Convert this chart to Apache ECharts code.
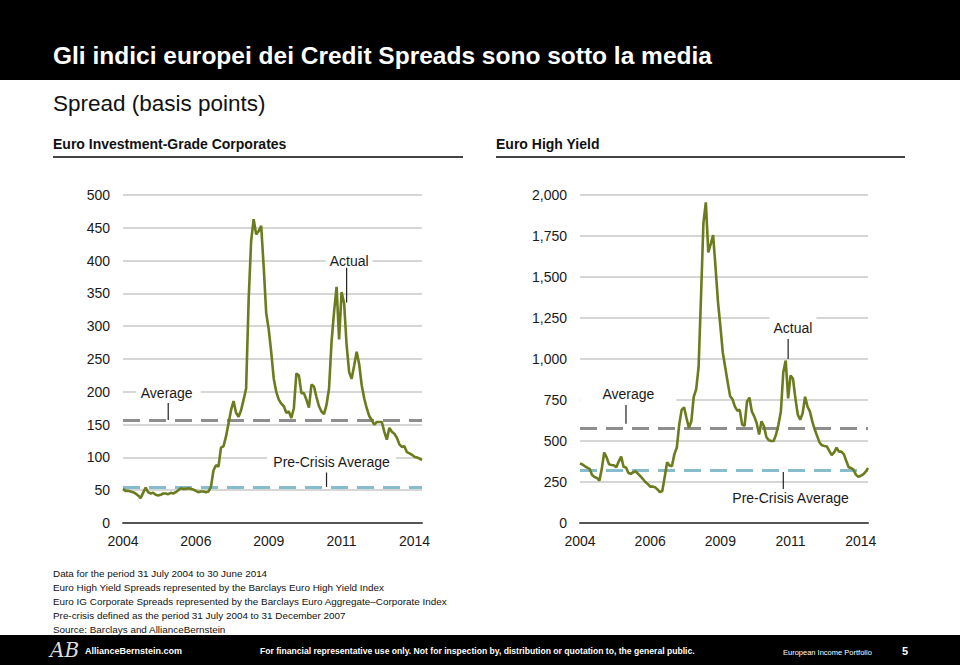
<!DOCTYPE html>
<html><head><meta charset="utf-8">
<script src="https://cdn.jsdelivr.net/npm/echarts@6/dist/echarts.min.js"></script>
<style>html,body{margin:0;padding:0;background:#fff}#c{width:960px;height:665px}</style>
</head><body><div id="c"></div>
<script>
// Monthly categories, 31 July 2004 .. 30 June 2014
const months = [];
for (let y = 2004, m = 7; months.length < 120;) {
  months.push(y + '-' + String(m).padStart(2, '0'));
  m++; if (m > 12) { m = 1; y++; }
}
const tickIndex = [0, 29, 58, 87, 116];
const tickLabels = ['2004', '2006', '2009', '2011', '2014'];

// Euro Investment-Grade Corporates spread (bp)
const igSpread = [
  52,49,49,48,47,45,42,38,46,54,
  47,45,46,43,42,43,45,45,44,46,
  45,47,50,53,52,52,53,52,51,49,
  47,48,48,47,48,55,80,88,86,115,
  117,132,152,172,186,168,162,172,188,205,
  340,430,463,440,445,453,390,320,295,260,
  220,200,188,182,178,168,170,160,175,228,
  225,198,198,188,176,211,208,192,178,170,
  166,180,205,276,322,360,280,352,335,271,
  230,220,240,261,242,210,190,175,163,157,
  150,154,154,154,139,127,145,139,136,130,
  120,116,117,108,106,104,101,100,98,96
];
// Euro High Yield spread (bp)
const hySpread = [
  364,357,347,338,330,292,280,275,258,330,
  430,400,358,354,352,340,375,405,343,338,
  305,300,310,315,300,285,268,250,238,222,
  222,218,205,188,195,280,370,350,348,420,
  460,600,690,705,640,580,620,770,815,950,
  1380,1830,1955,1650,1700,1756,1560,1350,1200,1040,
  950,860,775,755,710,685,690,600,593,740,
  765,680,650,610,540,620,590,525,505,500,
  500,540,600,680,920,990,760,900,880,760,
  660,630,670,770,710,679,618,570,530,490,
  474,470,467,440,414,430,460,435,435,420,
  380,340,335,325,295,282,288,296,312,335
];
const igAverage = 156, igPreCrisisAverage = 54;
const hyAverage = 580, hyPreCrisisAverage = 320;

const FONT = '"Liberation Sans", Arial, Helvetica, sans-serif';
const GREEN = '#6b7b1e', AVG = '#8e8e8e', PRE = '#86bccb';

const chart = echarts.init(document.getElementById('c'), null, {renderer: 'svg'});

function xAxis(gi) {
  return {
    type: 'category', gridIndex: gi, data: months, boundaryGap: false,
    axisLine: {lineStyle: {color: '#555', width: 2}},
    axisTick: {show: false},
    axisLabel: {
      interval: (i) => tickIndex.includes(i),
      formatter: (v, i) => tickLabels[tickIndex.indexOf(i)],
      fontSize: 14, color: '#1a1a1a', margin: 11, fontFamily: FONT
    },
    splitLine: {show: false}
  };
}
function yAxis(gi, max, step, fmt) {
  return {
    type: 'value', gridIndex: gi, min: 0, max: max, interval: step,
    axisLine: {show: false}, axisTick: {show: false},
    axisLabel: {fontSize: 14, color: '#1a1a1a', margin: 13, fontFamily: FONT, formatter: fmt},
    splitLine: {lineStyle: {color: '#c8c8c8', width: 1.5}}
  };
}
function lineSeries(gi, data, avg, pre) {
  return {
    type: 'line', xAxisIndex: gi, yAxisIndex: gi, data: data, z: 6,
    symbol: 'none', lineStyle: {color: GREEN, width: 2.6}, silent: true,
    markLine: {
      silent: true, symbol: 'none', label: {show: false}, animation: false,
      lineStyle: {type: [17, 9], width: 3},
      data: [
        {yAxis: avg, lineStyle: {color: AVG, type: [17, 9], width: 3}},
        {yAxis: pre, lineStyle: {color: PRE, type: [17, 9], width: 3}}
      ]
    }
  };
}

chart.setOption({
  animation: false,
  backgroundColor: '#fff',
  grid: [
    {left: 123, top: 195, width: 299, height: 328},
    {left: 580, top: 195, width: 288, height: 328}
  ],
  xAxis: [xAxis(0), xAxis(1)],
  yAxis: [
    yAxis(0, 500, 50, (v) => String(v)),
    yAxis(1, 2000, 250, (v) => v.toLocaleString('en-US'))
  ],
  series: [
    lineSeries(0, igSpread, igAverage, igPreCrisisAverage),
    lineSeries(1, hySpread, hyAverage, hyPreCrisisAverage)
  ]
});

// annotation labels in data coordinates: [category index, value]
const notes = [
  {g: 0, text: 'Average', at: [17.5, 198], pad: [2, 8, 2, 5], lead: [[18, 183], [18, 157]]},
  {g: 0, text: 'Pre-Crisis Average', at: [83, 93], pad: [3, 6], lead: [[81, 77], [81, 55]]},
  {g: 0, text: 'Actual', at: [89.5, 399], pad: [3, 4], lead: [[88.7, 389], [88.7, 336]]},
  {g: 1, text: 'Average', at: [20.2, 787], pad: [3, 22], lead: [[19.4, 720], [19.4, 605]]},
  {g: 1, text: 'Actual', at: [87.6, 1189], pad: [5, 4], lead: [[86.4, 1122], [86.4, 1000]]},
  {g: 1, text: 'Pre-Crisis Average', at: [86.6, 152], pad: [2, 2], lead: [[83.9, 311], [83.9, 207]]}
];
const px = (g, p) => chart.convertToPixel({xAxisIndex: g, yAxisIndex: g}, p);

const graphics = [
  {type: 'rect', shape: {x: 0, y: 0, width: 960, height: 80}, style: {fill: '#000'}},
  {type: 'text', style: {text: 'Gli indici europei dei Credit Spreads sono sotto la media', x: 53, y: 55,
    verticalAlign: 'middle', fontSize: 24.5, fontWeight: 'bold', fontFamily: FONT, fill: '#fff'}},
  {type: 'text', style: {text: 'Spread (basis points)', x: 53, y: 103, verticalAlign: 'middle',
    fontSize: 22.5, fontFamily: FONT, fill: '#111'}},
  {type: 'text', style: {text: 'Euro Investment-Grade Corporates', x: 53, y: 144, verticalAlign: 'middle',
    fontSize: 14, fontWeight: 'bold', fontFamily: FONT, fill: '#111'}},
  {type: 'text', style: {text: 'Euro High Yield', x: 496, y: 144, verticalAlign: 'middle',
    fontSize: 14, fontWeight: 'bold', fontFamily: FONT, fill: '#111'}},
  {type: 'rect', shape: {x: 53, y: 156, width: 410, height: 2}, style: {fill: '#444'}},
  {type: 'rect', shape: {x: 496, y: 156, width: 409, height: 2}, style: {fill: '#444'}},
  {type: 'rect', shape: {x: 0, y: 635, width: 960, height: 30}, style: {fill: '#000'}},
  {type: 'text', style: {text: 'AB', x: 50, y: 650, verticalAlign: 'middle', fontSize: 20,
    fontStyle: 'italic', fontFamily: '"DejaVu Serif", serif', fill: '#ddd'}},
  {type: 'text', style: {text: 'AllianceBernstein.com', x: 85, y: 651, verticalAlign: 'middle',
    fontSize: 9, fontWeight: 'bold', fontFamily: FONT, fill: '#fff'}},
  {type: 'text', style: {text: 'For financial representative use only. Not for inspection by, distribution or quotation to, the general public.',
    x: 260, y: 651, verticalAlign: 'middle', fontSize: 8.6, fontWeight: 'bold', fontFamily: FONT, fill: '#fff'}},
  {type: 'text', style: {text: 'European Income Portfolio', x: 783, y: 652, verticalAlign: 'middle',
    fontSize: 7.5, fontFamily: FONT, fill: '#fff'}},
  {type: 'text', style: {text: '5', x: 902, y: 651, verticalAlign: 'middle',
    fontSize: 11, fontWeight: 'bold', fontFamily: FONT, fill: '#fff'}}
];
const footLines = [
  'Data for the period 31 July 2004 to 30 June 2014',
  'Euro High Yield Spreads represented by the Barclays Euro High Yield Index',
  'Euro IG Corporate Spreads represented by the Barclays Euro Aggregate\u2013Corporate Index',
  'Pre-crisis defined as the period 31 July 2004 to 31 December 2007',
  'Source: Barclays and AllianceBernstein'
];
footLines.forEach((t, k) => graphics.push({type: 'text', style: {text: t, x: 53, y: 573 + k * 14.2,
  verticalAlign: 'middle', fontSize: 9.9, fontFamily: FONT, fill: '#111'}}));

notes.forEach((n) => {
  const a = px(n.g, n.lead[0]), b = px(n.g, n.lead[1]);
  graphics.push({type: 'line', z: 50, shape: {x1: a[0], y1: a[1], x2: b[0], y2: b[1]},
    style: {stroke: '#222', lineWidth: 1.2}});
  const c = px(n.g, n.at);
  graphics.push({type: 'text', z: 49, style: {text: n.text, x: c[0], y: c[1], align: 'center',
    verticalAlign: 'middle', fontSize: 14, fontFamily: FONT, fill: '#1a1a1a',
    backgroundColor: '#fff', padding: n.pad}});
});

chart.setOption({graphic: graphics});
</script></body></html>
